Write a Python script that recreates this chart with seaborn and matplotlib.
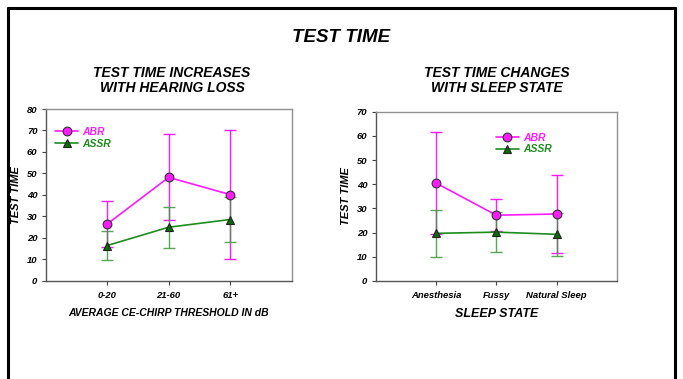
import pandas as pd
import matplotlib
matplotlib.use('Agg')
import matplotlib.pyplot as plt
import seaborn as sns
from matplotlib.lines import Line2D

sns.set_theme(style="white")
plt.rcParams['font.family'] = ['Liberation Sans', 'DejaVu Sans']
plt.rcParams.update({'text.color': 'black', 'axes.labelcolor': 'black',
                     'xtick.color': 'black', 'ytick.color': 'black'})

# Left panel: hearing loss
hl_cats = ['0-20', '21-60', '61+']
hl_abr = [26.5, 48.2, 40.2]
hl_abr_err = [10.5, 20.0, 30.0]
hl_assr = [16.5, 25.0, 28.6]
hl_assr_err = [6.8, 9.5, 10.5]

# Right panel: sleep state
ss_cats = ['Anesthesia', 'Fussy', 'Natural Sleep']
ss_abr = [40.5, 27.2, 27.7]
ss_abr_err = [21.0, 6.6, 16.3]
ss_assr = [19.7, 20.2, 19.3]
ss_assr_err = [9.6, 8.3, 8.8]

ABR_COL = '#FF1AFF'
ASSR_COL = '#1E8C1E'
ASSR_MK = '#0B6B0B'

fig = plt.figure(figsize=(6.83, 3.79), dpi=100)

# outer frame
fig.add_artist(Line2D([0.012, 0.012], [0.0, 0.979], color='black', lw=2.2))
fig.add_artist(Line2D([0.012, 0.988], [0.979, 0.979], color='black', lw=2.2))
fig.add_artist(Line2D([0.988, 0.988], [0.0, 0.979], color='black', lw=2.2))

bi = dict(fontweight='bold', fontstyle='italic')
fig.text(0.5, 0.90, 'TEST TIME', ha='center', va='center', fontsize=13.5,
         family=['Liberation Sans Narrow', 'Liberation Sans'], **bi)
fig.text(0.252, 0.787, 'TEST TIME INCREASES\nWITH HEARING LOSS', ha='center', va='center',
         fontsize=10, linespacing=1.05, **bi)
fig.text(0.728, 0.787, 'TEST TIME CHANGES\nWITH SLEEP STATE', ha='center', va='center',
         fontsize=10, linespacing=1.05, **bi)


def panel(ax, cats, abr, abr_err, assr, assr_err, ymax, xlabel, xl_size, leg_loc):
    df = pd.DataFrame({
        'x': list(range(len(cats))) * 2,
        'y': abr + assr,
        'test': ['ABR'] * len(cats) + ['ASSR'] * len(cats),
    })
    xs = list(range(len(cats)))
    ax.errorbar(xs, abr, yerr=abr_err, fmt='none', ecolor=ABR_COL, elinewidth=1.0,
                capsize=4, capthick=1.0, zorder=2)
    ax.errorbar(xs, assr, yerr=assr_err, fmt='none', ecolor='#3A9A3A', elinewidth=1.0,
                capsize=4, capthick=1.0, alpha=0.85, zorder=2)
    sns.lineplot(data=df[df.test == 'ABR'], x='x', y='y', ax=ax, color=ABR_COL, lw=1.2,
                 marker='o', markersize=6.3, markerfacecolor=ABR_COL, markeredgecolor='#333333',
                 markeredgewidth=0.8, zorder=4, legend=False)
    sns.lineplot(data=df[df.test == 'ASSR'], x='x', y='y', ax=ax, color=ASSR_COL, lw=1.2,
                 marker='^', markersize=6, markerfacecolor=ASSR_MK, markeredgecolor='#222222',
                 markeredgewidth=0.8, zorder=4, legend=False)
    ax.set_xlim(-1, 3)
    ax.set_ylim(0, ymax)
    ax.set_yticks(range(0, ymax + 1, 10))
    ax.set_xticks(xs)
    ax.set_xticklabels(cats)
    for lab in ax.get_xticklabels() + ax.get_yticklabels():
        lab.set_fontsize(6.8)
        lab.set_fontweight('bold')
        lab.set_fontstyle('italic')
    ax.tick_params(axis='both', direction='out', length=3, width=0.8, color='#444444',
                   bottom=True, left=True, pad=3)
    ax.tick_params(axis='x', pad=4)
    for s in ['top', 'right']:
        ax.spines[s].set_color('#909090')
        ax.spines[s].set_linewidth(1.0)
    for s in ['left', 'bottom']:
        ax.spines[s].set_color('#555555')
        ax.spines[s].set_linewidth(1.0)
    ax.set_xlabel(xlabel, fontsize=xl_size, labelpad=6, **bi)
    ax.set_ylabel('TEST TIME', fontsize=8, labelpad=4, **bi)
    handles = [
        Line2D([], [], color=ABR_COL, lw=1.2, marker='o', markersize=6.3,
               markerfacecolor=ABR_COL, markeredgecolor='#333333', markeredgewidth=0.8),
        Line2D([], [], color=ASSR_COL, lw=1.2, marker='^', markersize=6,
               markerfacecolor=ASSR_MK, markeredgecolor='#222222', markeredgewidth=0.8),
    ]
    leg = ax.legend(handles, ['ABR', 'ASSR'], loc='upper left', bbox_to_anchor=leg_loc,
                    frameon=False, handlelength=2.2, handletextpad=0.4, labelspacing=0.15,
                    prop=dict(size=7.5, weight='bold', style='italic'))
    for txt, c in zip(leg.get_texts(), [ABR_COL, ASSR_COL]):
        txt.set_color(c)


ax1 = fig.add_axes([0.0669, 0.2586, 0.360, 0.4538])
panel(ax1, hl_cats, hl_abr, hl_abr_err, hl_assr, hl_assr_err, 80,
      'AVERAGE CE-CHIRP THRESHOLD IN dB', 7.5, (0.0, 0.95))

ax2 = fig.add_axes([0.550, 0.2586, 0.3533, 0.4467])
panel(ax2, ss_cats, ss_abr, ss_abr_err, ss_assr, ss_assr_err, 70,
      'SLEEP STATE', 9, (0.46, 0.93))

fig.savefig('out.png', dpi=100)
